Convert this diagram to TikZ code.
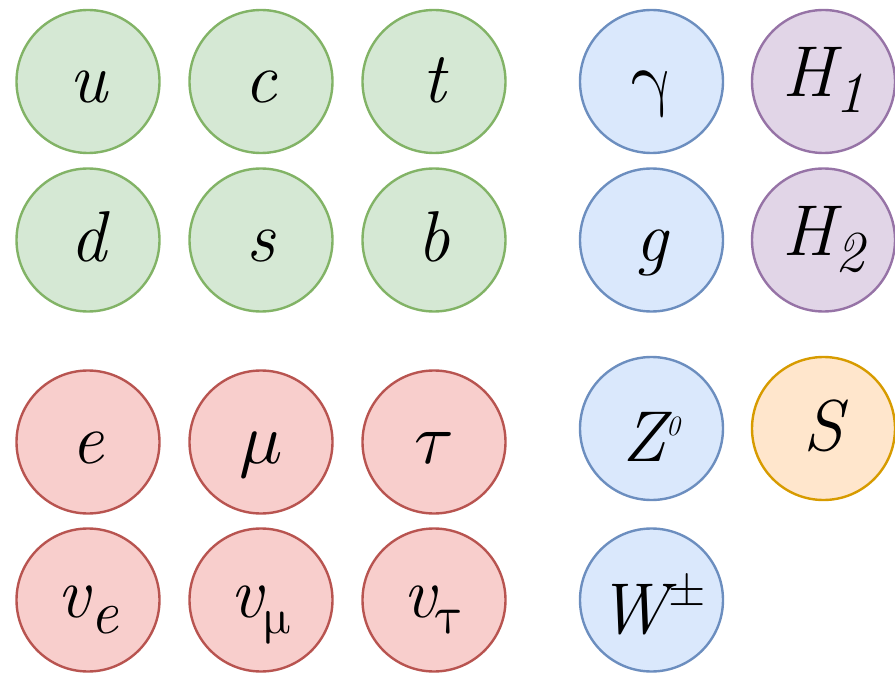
\documentclass[tikz,border=0pt]{standalone}
\usepackage{unicode-math}

\definecolor{quarkfill}{HTML}{D5E8D4}
\definecolor{quarkline}{HTML}{82B366}
\definecolor{leptonfill}{HTML}{F8CECC}
\definecolor{leptonline}{HTML}{B85450}
\definecolor{gaugefill}{HTML}{DAE8FC}
\definecolor{gaugeline}{HTML}{6C8EBF}
\definecolor{higgsfill}{HTML}{E1D5E7}
\definecolor{higgsline}{HTML}{9673A6}
\definecolor{scalarfill}{HTML}{FFE6CC}
\definecolor{scalarline}{HTML}{D79B00}

% indices lowered / raised, with their own size
\newcommand{\lowidx}[2]{\raisebox{-16pt}{\fontsize{#1pt}{#1pt}\selectfont #2}}
\newcommand{\highidx}[3]{\raisebox{#1pt}{\fontsize{#2pt}{#2pt}\selectfont #3}}

\tikzset{
	particle/.style={circle, draw, line width=2.4pt, minimum size=143pt, inner sep=0pt,
		font=\fontsize{72pt}{72pt}\selectfont\itshape, text height=43pt, text depth=0pt},
	quark/.style={particle, draw=quarkline, fill=quarkfill},
	lepton/.style={particle, draw=leptonline, fill=leptonfill},
	gauge/.style={particle, draw=gaugeline, fill=gaugefill},
	higgs/.style={particle, draw=higgsline, fill=higgsfill},
	scalar/.style={particle, draw=scalarline, fill=scalarfill},
	lift/.style={text height=#1}
}

\begin{document}
\begin{tikzpicture}[x=1pt, y=-1pt]
		\useasboundingbox (0,0) rectangle (895,674);
		
		% Quarks
		\node[quark] (u) at (88,81.5) {u};
		\node[quark] (c) at (261,81.5) {c};
		\node[quark] (t) at (434,81.5) {t};
		\node[quark] (d) at (88,240) {d};
		\node[quark] (s) at (261,240) {s};
		\node[quark] (b) at (434,240) {b};
		
		% Leptons
		\node[lepton] (e) at (88,442) {e};
		\node[lepton] (mu) at (261,442) {$\mu$};
		\node[lepton] (tau) at (434,442) {$\tau$};
		\node[lepton, lift=34pt] (nue) at (88,600) {v\lowidx{62}{e}};
		\node[lepton, lift=34pt] (numu) at (261,600) {v\lowidx{50}{$\upmu$}};
		\node[lepton, lift=34pt] (nutau) at (434,600) {v\lowidx{54}{$\uptau$}};
		
		% Gauge bosons
		\node[gauge] (gamma) at (651.5,81.5) {$\upgamma$};
		\node[gauge] (g) at (651.5,240) {g};
		\node[gauge, lift=65pt] (Z) at (651.5,428.5) {Z\highidx{26}{28}{0}};
		\node[gauge, lift=66pt] (W) at (651.5,600) {W\highidx{32}{48}{$\pm$}};
		
		% Higgs and scalar
		\node[higgs, lift=31pt] (H1) at (823.5,81.5) {H\lowidx{58}{1}};
		\node[higgs, lift=31pt] (H2) at (823.5,240) {H\lowidx{58}{2}};
		\node[scalar] (S) at (823.5,428.5) {S};
		
	\end{tikzpicture}
\end{document}
